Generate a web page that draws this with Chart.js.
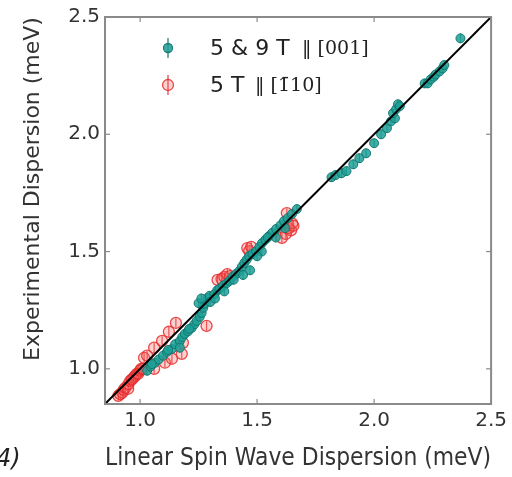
<!DOCTYPE html>
<html>
<head>
<meta charset="utf-8">
<script src="https://cdn.jsdelivr.net/npm/chart.js@4.4.1/dist/chart.umd.min.js"></script>
<style>
  html, body { margin: 0; padding: 0; background: #ffffff; }
  #wrap { position: relative; width: 512px; height: 477px; }
</style>
</head>
<body>
<div id="wrap"><canvas id="c" width="512" height="477"></canvas></div>
<script>
// ---- data (meV) ----
const xTicks = [1.0, 1.5, 2.0, 2.5];
const yTicks = [1.0, 1.5, 2.0, 2.5];
const axisMin = 0.85;
const axisMax = 2.5;

const seriesALabel = "5 & 9 T";
const seriesAField = "\u2016 [001]";
const seriesBLabel = "5 T";
const seriesBField = "\u2016 [1\u030410]";

// 5 & 9 T || [001]
const tealX = [
  1.030, 1.045, 1.064, 1.080, 1.098, 1.115, 1.136, 1.150, 1.170, 1.180,
  1.191, 1.205, 1.221, 1.232, 1.242, 1.255, 1.263, 1.270, 1.276, 1.288,
  1.297, 1.318, 1.330, 1.339, 1.355, 1.370, 1.382, 1.395, 1.410, 1.424,
  1.435, 1.445, 1.455, 1.466, 1.480, 1.496, 1.510, 1.521, 1.535, 1.551,
  1.565, 1.581, 1.600, 1.615, 1.630, 1.649, 1.670,
  1.250, 1.262, 1.440, 1.470, 1.360, 1.520, 1.580, 1.620, 1.170, 1.120, 1.050,
  1.300, 1.320, 1.400, 1.500, 1.545, 1.210,
  1.818, 1.835, 1.861, 1.882, 1.911, 1.937, 1.966, 2.000, 2.030, 2.055,
  2.072, 2.089, 2.081, 2.094, 2.102, 2.110,
  2.216, 2.229, 2.242, 2.255, 2.263, 2.280, 2.293, 2.300, 2.369
];
const tealY = [
  0.992, 1.010, 1.026, 1.040, 1.056, 1.072, 1.085, 1.105, 1.119, 1.135,
  1.149, 1.160, 1.175, 1.190, 1.204, 1.222, 1.238, 1.260, 1.277, 1.302,
  1.311, 1.319, 1.335, 1.341, 1.355, 1.365, 1.375, 1.392, 1.405, 1.417,
  1.435, 1.451, 1.465, 1.481, 1.490, 1.502, 1.520, 1.536, 1.550, 1.566,
  1.580, 1.596, 1.612, 1.630, 1.642, 1.660, 1.681,
  1.280, 1.300, 1.400, 1.420, 1.330, 1.500, 1.560, 1.600, 1.090, 1.080, 1.020,
  1.285, 1.300, 1.380, 1.480, 1.560, 1.170,
  1.817, 1.826, 1.834, 1.843, 1.872, 1.898, 1.919, 1.962, 2.000, 2.026,
  2.055, 2.068, 2.090, 2.107, 2.128, 2.120,
  2.217, 2.217, 2.234, 2.245, 2.255, 2.268, 2.281, 2.295, 2.409
];
const tealErr = 0.02;

// 5 T || [-110]
const redX = [
  0.907, 0.915, 0.924, 0.930, 0.937, 0.949, 0.950, 0.958, 0.965, 0.972,
  0.979, 0.985, 0.992, 1.000, 1.005, 1.013, 1.017, 1.030, 1.060, 1.060,
  1.094, 1.106, 1.123, 1.136, 1.153, 1.178, 1.183, 1.284, 1.331, 1.348,
  1.360, 1.373, 1.385, 1.458, 1.466, 1.475, 1.606, 1.623, 1.636, 1.645,
  1.627, 1.650, 1.655
];
const redY = [
  0.885, 0.892, 0.898, 0.910, 0.919, 0.915, 0.935, 0.949, 0.955, 0.962,
  0.970, 0.978, 0.979, 0.992, 1.000, 1.000, 1.047, 1.056, 1.000, 1.090,
  1.119, 1.026, 1.158, 1.043, 1.196, 1.064, 1.111, 1.183, 1.379, 1.383,
  1.392, 1.404, 1.395, 1.515, 1.502, 1.520, 1.558, 1.575, 1.600, 1.590,
  1.664, 1.620, 1.610
];
const redErr = 0.02;

// y = x reference line
const refLine = [axisMin, axisMax];

const xTitle = "Linear Spin Wave Dispersion (meV)";
const yTitle = "Experimental Dispersion (meV)";
const panelLabel = "4)";

// ---- styles ----
const TEAL_FILL = "rgba(30,160,150,0.85)";
const TEAL_EDGE = "rgba(15,115,110,0.9)";
const RED_FILL = "rgba(245,90,90,0.28)";
const RED_EDGE = "rgba(230,45,45,0.85)";
const FONT = "'DejaVu Sans', sans-serif";
const SERIF = "'DejaVu Serif', 'Liberation Serif', serif";
const TEXT = "#333333";

const toPts = (xs, ys) => xs.map((v, i) => ({ x: v, y: ys[i] }));

const errorBars = {
  id: 'errorBars',
  beforeDatasetsDraw(chart) {
    const { ctx, scales: { x, y } } = chart;
    ctx.save();
    ctx.lineWidth = 1.2;
    const draw = (xs, ys, e, col) => {
      ctx.strokeStyle = col;
      xs.forEach((v, i) => {
        const px = x.getPixelForValue(v);
        ctx.beginPath();
        ctx.moveTo(px, y.getPixelForValue(ys[i] - e));
        ctx.lineTo(px, y.getPixelForValue(ys[i] + e));
        ctx.stroke();
      });
    };
    draw(redX, redY, redErr, RED_EDGE);
    draw(tealX, tealY, tealErr, TEAL_EDGE);
    ctx.restore();
  }
};

const frame = {
  id: 'frame',
  afterDraw(chart) {
    const { ctx, chartArea: { left, top, right, bottom }, scales: { x, y } } = chart;
    ctx.save();
    ctx.strokeStyle = '#8a8a8a';
    ctx.lineWidth = 2;
    ctx.strokeRect(left, top, right - left, bottom - top);
    ctx.lineWidth = 1.2;
    const seg = (a, b, c, d) => { ctx.beginPath(); ctx.moveTo(a, b); ctx.lineTo(c, d); ctx.stroke(); };
    xTicks.forEach(v => {
      const px = x.getPixelForValue(v);
      seg(px, bottom, px, bottom - 5);
      seg(px, top, px, top + 5);
    });
    yTicks.forEach(v => {
      const py = y.getPixelForValue(v);
      seg(left, py, left + 5, py);
      seg(right, py, right - 5, py);
    });

    // y title
    ctx.fillStyle = TEXT;
    ctx.font = "22px " + FONT;
    ctx.textAlign = 'center';
    ctx.textBaseline = 'middle';
    ctx.save();
    ctx.translate(33, 189);
    ctx.rotate(-Math.PI / 2);
    ctx.fillText(yTitle, 0, 0);
    ctx.restore();

    // panel label
    ctx.font = "italic 24px " + FONT;
    ctx.textAlign = 'left';
    ctx.fillStyle = '#222';
    ctx.fillText(panelLabel, -4, 460);

    // legend
    const mx = 168;
    const rows = [
      { yy: 48, label: seriesALabel, field: seriesAField, fx: 302, fill: TEAL_FILL, edge: TEAL_EDGE, r: 4.5 },
      { yy: 85, label: seriesBLabel, field: seriesBField, fx: 255, fill: RED_FILL, edge: RED_EDGE, r: 5.5 }
    ];
    rows.forEach(rw => {
      ctx.strokeStyle = rw.edge;
      ctx.lineWidth = 1.3;
      seg(mx, rw.yy - 10, mx, rw.yy + 10);
      ctx.beginPath();
      ctx.arc(mx, rw.yy, rw.r, 0, Math.PI * 2);
      ctx.fillStyle = rw.fill;
      ctx.fill();
      ctx.stroke();
      ctx.fillStyle = '#222';
      ctx.textBaseline = 'middle';
      ctx.font = "22px " + FONT;
      ctx.fillText(rw.label, 210, rw.yy + 1);
      ctx.font = "19px " + SERIF;
      ctx.fillText(rw.field, rw.fx, rw.yy + 1);
    });
    ctx.restore();
  }
};

new Chart(document.getElementById('c'), {
  type: 'scatter',
  data: {
    datasets: [
      {
        type: 'line',
        data: toPts(refLine, refLine),
        borderColor: '#000000',
        borderWidth: 2,
        pointRadius: 0,
        fill: false
      },
      {
        label: seriesALabel,
        data: toPts(tealX, tealY),
        backgroundColor: TEAL_FILL,
        borderColor: TEAL_EDGE,
        borderWidth: 1,
        pointRadius: 4.5
      },
      {
        label: seriesBLabel,
        data: toPts(redX, redY),
        backgroundColor: RED_FILL,
        borderColor: RED_EDGE,
        borderWidth: 1.3,
        pointRadius: 5.5
      }
    ]
  },
  options: {
    responsive: false,
    animation: false,
    devicePixelRatio: 1,
    layout: { padding: { top: 17, right: 19, left: 0, bottom: 0 } },
    plugins: { legend: { display: false }, tooltip: { enabled: false } },
    scales: {
      x: {
        type: 'linear',
        min: axisMin,
        max: axisMax,
        afterBuildTicks: s => { s.ticks = xTicks.map(v => ({ value: v })); },
        afterFit: s => { s.height = 73; },
        grid: { display: false, drawTicks: false },
        border: { display: false },
        ticks: {
          font: { family: FONT, size: 20 },
          color: TEXT,
          padding: 5,
          maxRotation: 0,
          callback: v => Number(v).toFixed(1)
        },
        title: {
          display: true,
          text: xTitle,
          font: { family: FONT, size: 24 },
          color: TEXT,
          padding: { top: 0, bottom: 4 }
        }
      },
      y: {
        type: 'linear',
        min: axisMin,
        max: axisMax,
        afterBuildTicks: s => { s.ticks = yTicks.map(v => ({ value: v })); },
        afterFit: s => { s.width = 105; },
        grid: { display: false, drawTicks: false },
        border: { display: false },
        ticks: {
          font: { family: FONT, size: 20 },
          color: TEXT,
          padding: 5,
          callback: v => Number(v).toFixed(1)
        }
      }
    }
  },
  plugins: [errorBars, frame]
});
</script>
</body>
</html>
